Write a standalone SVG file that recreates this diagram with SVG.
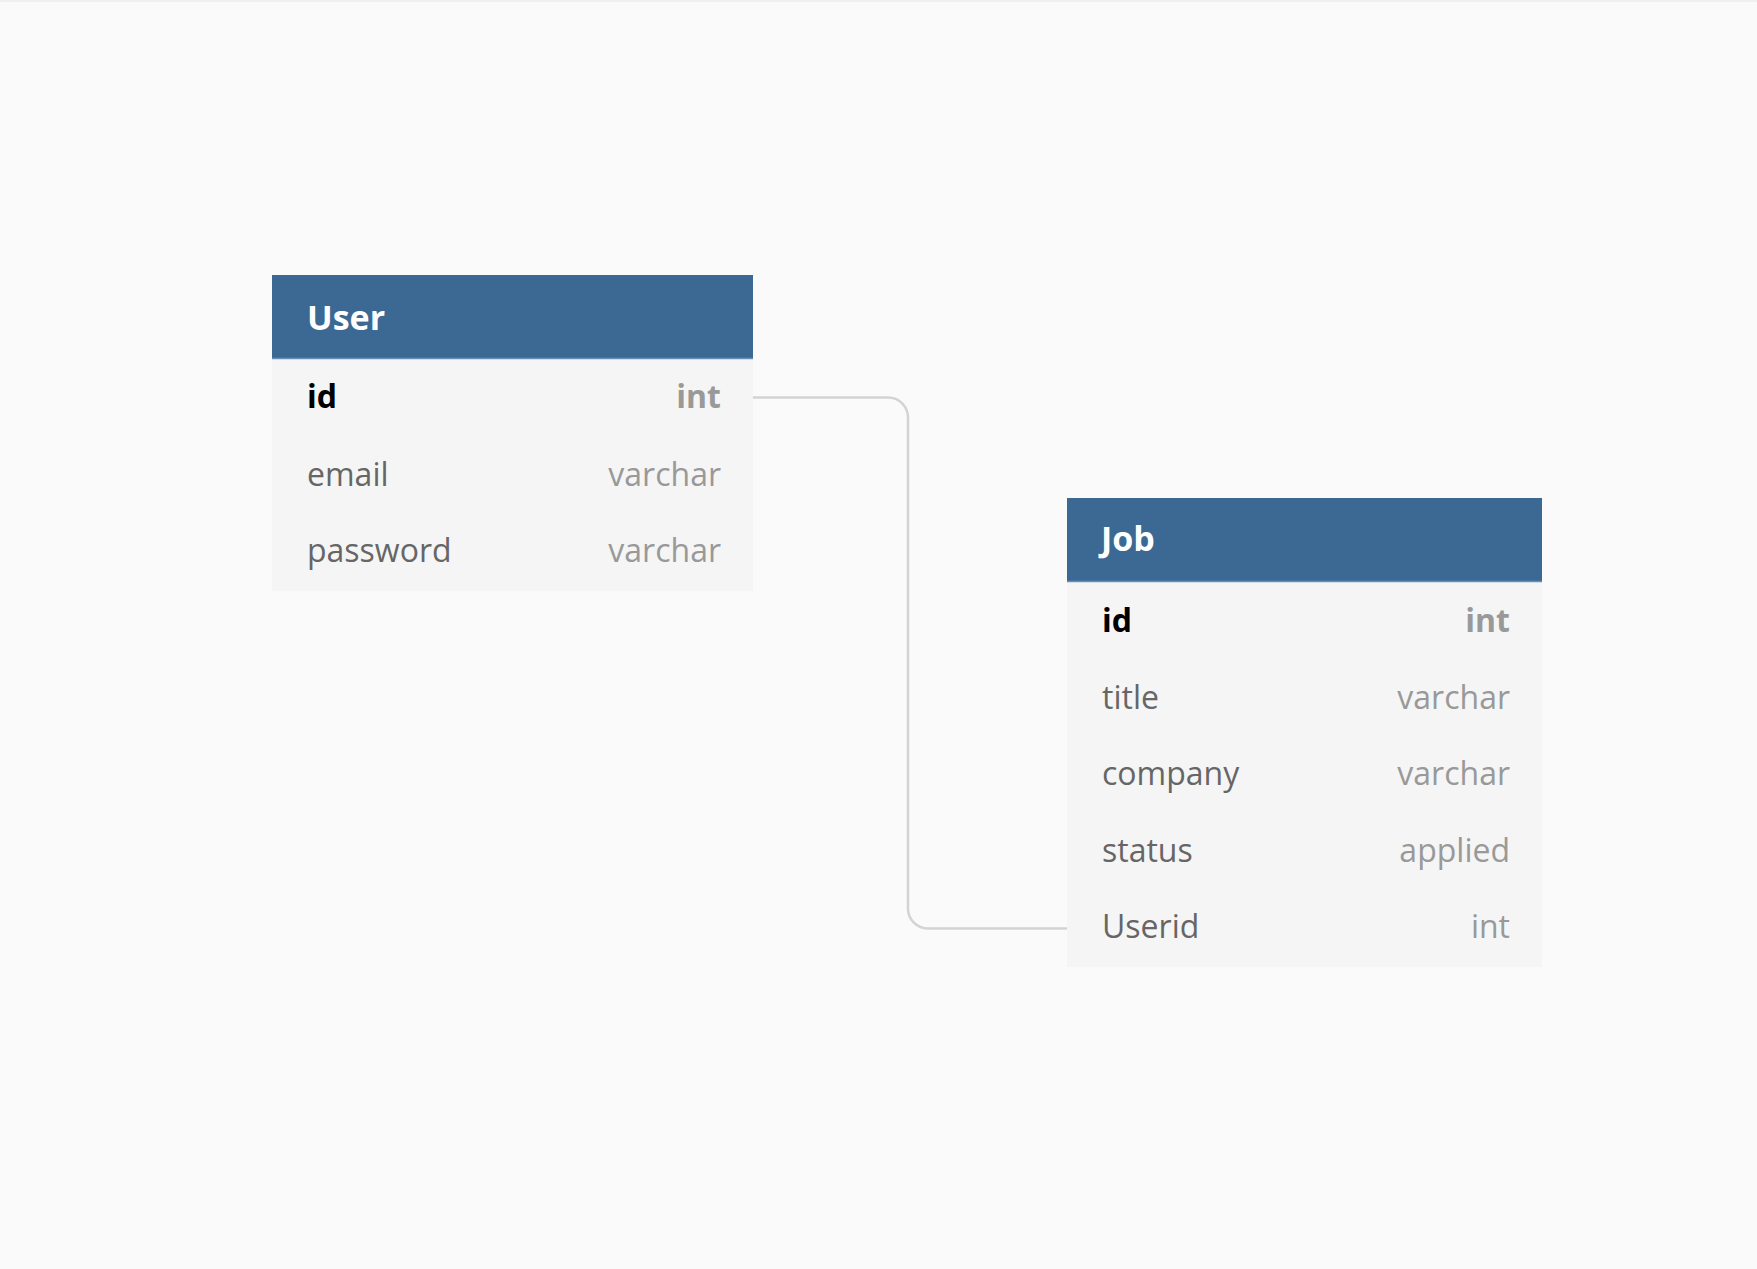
<svg xmlns="http://www.w3.org/2000/svg" width="1757" height="1269" viewBox="0 0 1757 1269">
<style>
text { font-family: "Open Sans", "Noto Sans", "Liberation Sans", sans-serif; }
.hdr { fill: #3b6994; }
.hdrline { stroke: #6a8fb6; stroke-width: 1.5; }
.body { fill: #f5f5f5; }
.title { font-size: 34px; font-weight: 700; fill: #ffffff; }
.fname { font-size: 32px; fill: #666666; }
.ftype { font-size: 32px; fill: #999999; text-anchor: end; }
.pk { font-weight: 700; fill: #000000; }
.pktype { font-weight: 700; fill: #999999; }
.conn { fill: none; stroke: #d3d3d3; stroke-width: 2.5; }
</style>
<rect x="0" y="0" width="1757" height="1269" fill="#fafafa"/>
<rect x="0" y="0" width="1757" height="2" fill="#f0f0f0"/>
<g id="connectors">
<path class="conn" d="M753,397.5 H888 A20,20 0 0 1 908,417.5 V908.5 A20,20 0 0 0 928,928.5 H1067"/>
</g>
<g id="User">
<rect class="body" x="272" y="359" width="481" height="232"/>
<rect class="hdr" x="272" y="275" width="481" height="84"/>
<line class="hdrline" x1="272" y1="358.5" x2="753" y2="358.5"/>
<text class="title" x="307" y="330">User</text>
<text class="fname pk" x="307" y="408">id</text>
<text class="ftype pktype" x="721" y="408">int</text>
<text class="fname" x="307" y="486">email</text>
<text class="ftype" x="721" y="486">varchar</text>
<text class="fname" x="307" y="562">password</text>
<text class="ftype" x="721" y="562">varchar</text>
</g>
<g id="Job">
<rect class="body" x="1067" y="582" width="475" height="385"/>
<rect class="hdr" x="1067" y="498" width="475" height="84"/>
<line class="hdrline" x1="1067" y1="581.5" x2="1542" y2="581.5"/>
<text class="title" x="1101" y="551">Job</text>
<text class="fname pk" x="1102" y="632">id</text>
<text class="ftype pktype" x="1510" y="632">int</text>
<text class="fname" x="1102" y="709">title</text>
<text class="ftype" x="1510" y="709">varchar</text>
<text class="fname" x="1102" y="785">company</text>
<text class="ftype" x="1510" y="785">varchar</text>
<text class="fname" x="1102" y="862">status</text>
<text class="ftype" x="1510" y="862">applied</text>
<text class="fname" x="1102" y="938">Userid</text>
<text class="ftype" x="1510" y="938">int</text>
</g>
</svg>
